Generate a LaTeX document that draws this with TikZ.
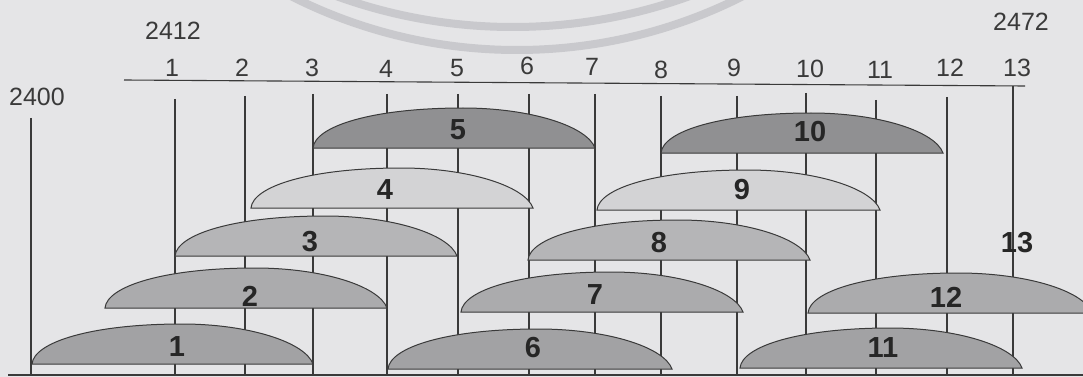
\documentclass[tikz,border=0pt]{standalone}
\usepackage{fontspec}
\setmainfont{Liberation Sans}
\definecolor{bg}{HTML}{E5E5E7}
\definecolor{wm}{HTML}{C9C9CD}
\definecolor{ink}{HTML}{3A3A3A}
\definecolor{fa}{HTML}{909092}
\definecolor{fb}{HTML}{A2A2A4}
\definecolor{fc}{HTML}{ABABAD}
\definecolor{fd}{HTML}{B5B5B7}
\definecolor{fe}{HTML}{D3D3D5}
\newcommand\mylens[4]{% L R base fill
  \filldraw[lensline,fill=#4] (#1,#3) .. controls (#1+2,#3-22) and (#1+60,#3-40) .. (#1+150,#3-40)
     .. controls (#2-65,#3-40) and (#2-8,#3-22) .. (#2,#3) -- cycle;}
\begin{document}
\begin{tikzpicture}[x=1pt,y=-1pt,
  axis/.style={draw=ink,line width=1.1pt},
  lensline/.style={draw=ink,line width=1pt},
  toplab/.style={inner sep=0pt,text=ink,font=\fontsize{25}{30}\selectfont},
  lenslab/.style={inner sep=0pt,text=black!85,font=\fontsize{29}{34}\selectfont\bfseries}]
\useasboundingbox (0,0) rectangle (1083,377);
\fill[bg] (0,0) rectangle (1083,377);
\begin{scope}
\clip (0,0) rectangle (1083,377);
\draw[wm,line width=8pt] (517,-450) circle (500);
\draw[wm,line width=8pt] (513,-491) circle (518);
\end{scope}
% labels
\node[toplab] (y2412) at (173,31) {2412};
\node[toplab] (y2400) at (37,97) {2400};
\node[toplab] (y2472) at (1021,22) {2472};
\node[toplab] (t1) at (172,68) {1};
\node[toplab] (t2) at (242,68) {2};
\node[toplab] (t3) at (312,68) {3};
\node[toplab] (t4) at (386,69) {4};
\node[toplab] (t5) at (457,68) {5};
\node[toplab] (t6) at (527,66) {6};
\node[toplab] (t7) at (592,67) {7};
\node[toplab] (t8) at (661,70) {8};
\node[toplab] (t9) at (734,68) {9};
\node[toplab] (t10) at (810,69) {10};
\node[toplab] (t11) at (880,70) {11};
\node[toplab] (t12) at (950,68) {12};
\node[toplab] (t13) at (1017,68) {13};
% axes
\draw[axis] (124,80) -- (1025,86);
\draw[axis] (8,375) -- (1083,375);
% verticals
\draw[axis] (31,118) -- (31,375);
\draw[axis] (175,99) -- (175,375);
\draw[axis] (245,96) -- (245,375);
\draw[axis] (313,94) -- (313,375);
\draw[axis] (387,94) -- (387,375);
\draw[axis] (458,94) -- (458,375);
\draw[axis] (529,94) -- (529,375);
\draw[axis] (595,94) -- (595,375);
\draw[axis] (661,96) -- (661,375);
\draw[axis] (737,96) -- (737,375);
\draw[axis] (806,93) -- (806,375);
\draw[axis] (876,100) -- (876,375);
\draw[axis] (947,97) -- (947,375);
\draw[axis] (1013,86) -- (1013,375);
% lenses
\mylens{32}{313}{364}{fb}
\mylens{105}{387}{308}{fc}
\mylens{175}{457}{256}{fd}
\mylens{251}{533}{208}{fe}
\mylens{313}{595}{148}{fa}
\mylens{388}{672}{369}{fb}
\mylens{461}{743}{312}{fc}
\mylens{528}{810}{260}{fd}
\mylens{597}{880}{210}{fe}
\mylens{661}{943}{153}{fa}
\mylens{740}{1022}{368}{fb}
\mylens{808}{1092}{313}{fc}
% lens labels
\node[lenslab] (l1) at (177,347) {1};
\node[lenslab] (l2) at (250,296) {2};
\node[lenslab] (l3) at (310,242) {3};
\node[lenslab] (l4) at (385,190) {4};
\node[lenslab] (l5) at (458,130) {5};
\node[lenslab] (l6) at (533,348) {6};
\node[lenslab] (l7) at (595,295) {7};
\node[lenslab] (l8) at (659,243) {8};
\node[lenslab] (l9) at (742,190) {9};
\node[lenslab] (l10) at (810,132) {10};
\node[lenslab] (l11) at (883,348) {11};
\node[lenslab] (l12) at (946,297) {12};
\node[lenslab] (l13) at (1017,243) {13};
\end{tikzpicture}
\end{document}
